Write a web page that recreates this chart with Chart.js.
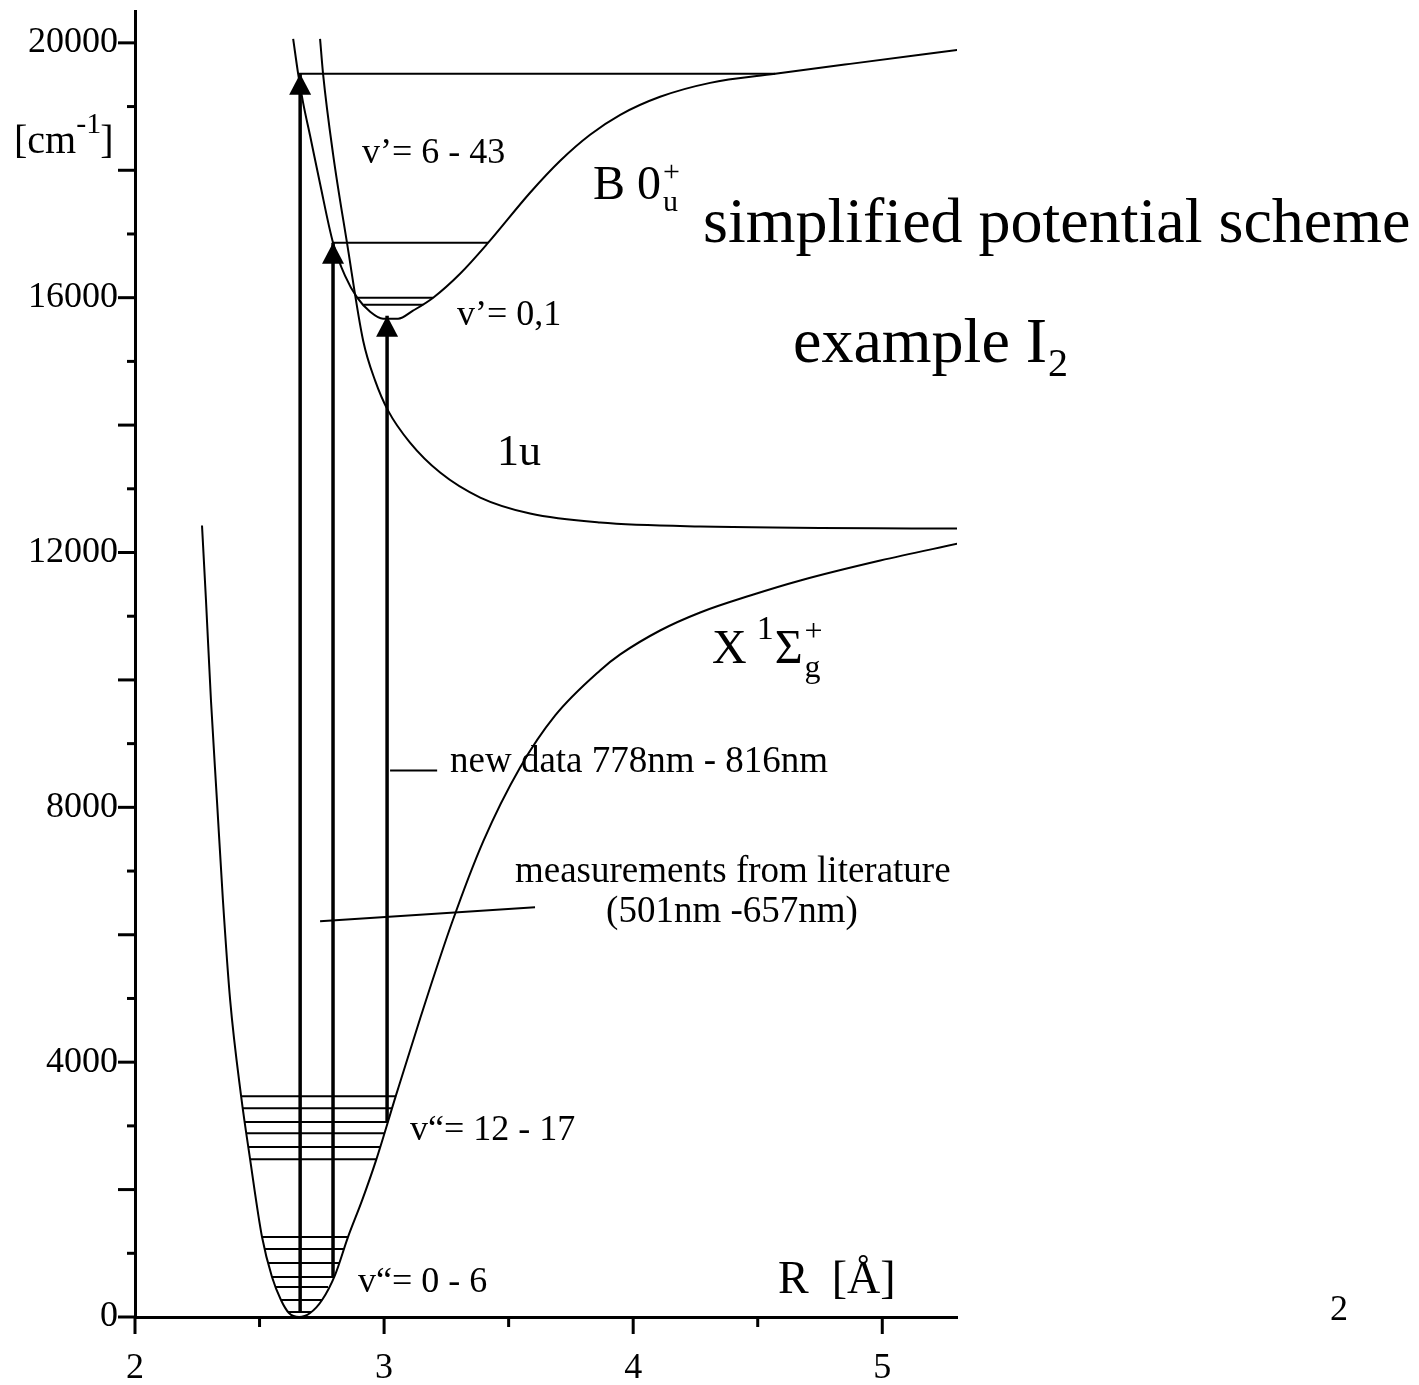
<!DOCTYPE html>
<html><head><meta charset="utf-8">
<script src="https://cdn.jsdelivr.net/npm/chart.js@4/dist/chart.umd.min.js"></script>
<style>html,body{margin:0;padding:0;background:#fff;}canvas{display:block;}</style>
</head><body>
<canvas id="c" width="1419" height="1385"></canvas>
<script>
// ---- data (R in Angstrom, E in cm^-1) ----
const groundR = [2.269,2.285,2.305,2.329,2.353,2.382,2.426,2.462,2.510,2.550,2.586,2.618,2.659,2.703,2.751,2.803,2.855,2.912,2.968,3.048,3.145,3.273,3.398,3.546,3.687,3.867,3.948,4.108,4.269,4.470,4.671,4.992,5.305];
const groundE = [12423,11247,9678,8110,6541,4973,3467,2478,1255,627,267,63,0,63,267,659,1255,1835,2463,3482,4690,6196,7467,8627,9443,10149,10400,10776,11059,11325,11561,11874,12141];

const bStateR = [2.635,2.655,2.675,2.703,2.743,2.795,2.843,2.892,2.944,2.996,3.056,3.116,3.197,3.305,3.418,3.586,3.707,3.827,3.948,4.108,4.309,4.570,4.871,5.305];
const bStateE = [20062,19514,19058,18541,17788,16863,16345,16000,15780,15670,15670,15796,16000,16376,16863,17647,18149,18557,18870,19153,19372,19514,19670,19890];

const oneUR = [2.743,2.755,2.795,2.851,2.916,2.964,3.016,3.104,3.225,3.386,3.586,3.867,4.269,5.305];
const oneUE = [20062,19514,18259,16863,15325,14698,14227,13725,13255,12863,12612,12470,12408,12376];

// vibrational levels of the ground state (v''=0-6 and v''=12-17)
const lowLevelE     = [1255,1067,847,627,471,267,78];
const lowLevelLeft  = [2.510,2.522,2.534,2.550,2.566,2.586,2.614];
const lowLevelRight = [2.855,2.839,2.819,2.795,2.775,2.751,2.707];
const midLevelE     = [3467,3278,3059,2886,2667,2478];
const midLevelLeft  = [2.426,2.430,2.438,2.446,2.454,2.462];
const midLevelRight = [3.048,3.032,3.016,3.000,2.984,2.968];
// levels of the B state
const bLevelE     = [19514,16863,16000,15890];
const bLevelLeft  = [2.655,2.795,2.892,2.916];
const bLevelRight = [4.570,3.418,3.197,3.157];

// transitions (arrows)
const arrowR    = [2.663,2.795,3.012];
const arrowFrom = [78,627,3059];
const arrowTo   = [19514,16863,15718];

// pointer lines
const pointerNewR = [3.024,3.213];
const pointerNewE = [8580,8580];
const pointerLitR = [2.743,3.606];
const pointerLitE = [6212,6431];

// axis ticks
const yTickLabels = [0,4000,8000,12000,16000,20000];
const xTickLabels = [2,3,4,5];

// ---- build datasets ----
const pts = (xs, ys) => xs.map((x,i)=>({x:x, y:ys[i]}));
const ds = [];
function add(data, w, smooth){
  ds.push({data:data, showLine:true, borderColor:'#000', backgroundColor:'#000', borderWidth:w,
    pointRadius:0, fill:false, cubicInterpolationMode: smooth ? 'monotone' : 'default', tension:0});
}
add(pts(groundR, groundE), 2, true);
add(pts(bStateR, bStateE), 2, true);
add(pts(oneUR, oneUE), 2, true);
lowLevelE.forEach((e,i)=>add(pts([lowLevelLeft[i],lowLevelRight[i]],[e,e]),2,false));
midLevelE.forEach((e,i)=>add(pts([midLevelLeft[i],midLevelRight[i]],[e,e]),2,false));
bLevelE.forEach((e,i)=>add(pts([bLevelLeft[i],bLevelRight[i]],[e,e]),2,false));
arrowR.forEach((r,i)=>add(pts([r,r],[arrowFrom[i],arrowTo[i]]),3.5,false));
add(pts(pointerNewR,pointerNewE),2,false);
add(pts(pointerLitR,pointerLitE),2,false);

const SERIF = '"Liberation Serif", "Times New Roman", serif';

function rich(ctx, parts, x, y){
  let cx = x;
  parts.forEach(p=>{
    ctx.font = p.s + 'px ' + SERIF;
    ctx.fillText(p.t, cx + (p.dx||0), y + (p.dy||0));
    if(!p.stay) cx += ctx.measureText(p.t).width + (p.dx||0);
  });
}

const overlay = {
  id:'overlay',
  afterDraw(chart){
    const ctx = chart.ctx, xs = chart.scales.x, ys = chart.scales.y;
    ctx.save();
    ctx.strokeStyle = '#000'; ctx.fillStyle = '#000'; ctx.lineWidth = 3;
    const left = chart.chartArea.left, bottom = chart.chartArea.bottom;
    for(let v=0; v<=20000; v+=1000){
      const p = ys.getPixelForValue(v);
      const len = (v % 2000 === 0) ? 17 : 8;
      ctx.beginPath(); ctx.moveTo(left - len, p); ctx.lineTo(left, p); ctx.stroke();
    }
    for(let v=2; v<=5.0001; v+=0.5){
      const p = xs.getPixelForValue(v);
      const len = (Math.abs(v - Math.round(v)) < 1e-6) ? 17 : 10;
      ctx.beginPath(); ctx.moveTo(p, bottom); ctx.lineTo(p, bottom + len); ctx.stroke();
    }
    arrowR.forEach((r,i)=>{
      const px = xs.getPixelForValue(r), py = ys.getPixelForValue(arrowTo[i]);
      ctx.beginPath(); ctx.moveTo(px, py); ctx.lineTo(px-11, py+21); ctx.lineTo(px+11, py+21); ctx.closePath(); ctx.fill();
    });
    ctx.textBaseline = 'alphabetic'; ctx.textAlign = 'left';
    rich(ctx, [{t:'[cm',s:40},{t:'-1',s:30,dy:-20},{t:']',s:40,dx:-1}], 14, 153);
    rich(ctx, [{t:'v\u2019= 6 - 43',s:36}], 362, 163);
    rich(ctx, [{t:'B 0',s:48},{t:'+',s:30,dy:-18,stay:true,dx:2},{t:'u',s:30,dy:12,dx:2}], 593, 199);
    rich(ctx, [{t:'simplified potential scheme',s:64}], 703, 242);
    rich(ctx, [{t:'v\u2019= 0,1',s:36}], 457, 325);
    rich(ctx, [{t:'example I',s:64},{t:'2',s:40,dy:14,dx:1}], 793, 362);
    rich(ctx, [{t:'1u',s:44}], 497, 465);
    rich(ctx, [{t:'X',s:48},{t:'1',s:34,dy:-24,dx:10},{t:'\u03A3',s:48,dx:1},{t:'+',s:32,dy:-22,stay:true,dx:2},{t:'g',s:32,dy:14,dx:2}], 712, 663);
    rich(ctx, [{t:'new data 778nm - 816nm',s:37}], 450, 772);
    rich(ctx, [{t:'measurements from literature',s:37}], 515, 882);
    ctx.textAlign = 'center';
    rich(ctx, [{t:'(501nm -657nm)',s:37}], 732, 922);
    ctx.textAlign = 'left';
    rich(ctx, [{t:'v\u201C= 12 - 17',s:36}], 410, 1140);
    rich(ctx, [{t:'v\u201C= 0 - 6',s:36}], 358, 1292);
    rich(ctx, [{t:'R  [\u00C5]',s:46}], 778, 1293);
    rich(ctx, [{t:'2',s:36}], 1330, 1320);
    ctx.restore();
  }
};

new Chart(document.getElementById('c'), {
  type:'scatter',
  data:{datasets:ds},
  options:{
    responsive:false, animation:false, devicePixelRatio:1, events:[],
    layout:{padding:{left:0, top:11, right:462, bottom:0}},
    plugins:{legend:{display:false}, tooltip:{enabled:false}},
    scales:{
      x:{type:'linear', min:2, max:5.3,
        afterBuildTicks(s){ s.ticks = xTickLabels.map(v=>({value:v})); },
        afterFit(s){ s.height = 68; s.paddingLeft = 0; s.paddingRight = 0; },
        border:{display:true, color:'#000', width:3},
        grid:{display:true, drawOnChartArea:false, drawTicks:false, color:'rgba(0,0,0,0)'},
        ticks:{autoSkip:false, maxRotation:0, padding:30, color:'#000',
          font:{family:SERIF, size:36},
          callback:(v)=> String(v)}
      },
      y:{type:'linear', min:0, max:20500,
        afterBuildTicks(s){ s.ticks = yTickLabels.map(v=>({value:v})); },
        afterFit(s){ s.width = 135; s.paddingTop = 0; s.paddingBottom = 0; },
        border:{display:true, color:'#000', width:3},
        grid:{display:true, drawOnChartArea:false, drawTicks:false, color:'rgba(0,0,0,0)'},
        ticks:{autoSkip:false, padding:17, color:'#000',
          font:{family:SERIF, size:36},
          callback:(v)=> String(v)}
      }
    }
  },
  plugins:[overlay]
});
</script>
</body></html>
